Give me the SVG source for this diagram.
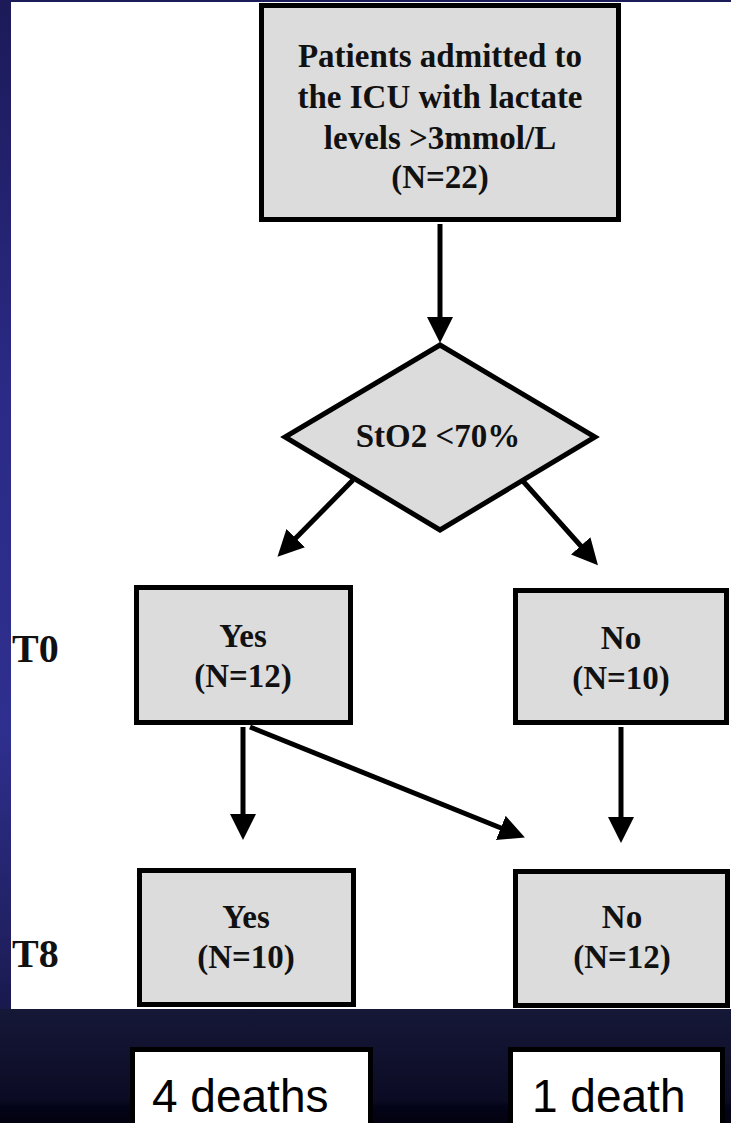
<svg xmlns="http://www.w3.org/2000/svg" width="731" height="1123" viewBox="0 0 731 1123">
  <defs>
    <linearGradient id="sideBand" x1="0" y1="0" x2="0" y2="1">
      <stop offset="0" stop-color="#1c1a58"/>
      <stop offset="0.35" stop-color="#2b2a86"/>
      <stop offset="0.65" stop-color="#2f2f8f"/>
      <stop offset="0.85" stop-color="#1f1f5e"/>
      <stop offset="1" stop-color="#0c0c2a"/>
    </linearGradient>
    <linearGradient id="footBand" x1="0" y1="0" x2="0" y2="1">
      <stop offset="0" stop-color="#161838"/>
      <stop offset="0.8" stop-color="#0b0b24"/>
      <stop offset="0.85" stop-color="#04041a"/>
      <stop offset="1" stop-color="#02020f"/>
    </linearGradient>
    <marker id="head" viewBox="0 0 26 26" markerUnits="userSpaceOnUse" markerWidth="26" markerHeight="26" refX="11" refY="13" orient="auto">
      <path d="M0,0 L26,13 L0,26 Z" fill="#000"/>
    </marker>
    <style>
      .box { fill: #dcdcdc; stroke: #000; stroke-width: 5; }
      .tag { fill: #fff; stroke: #000; stroke-width: 5; }
      .lbl { font-family: "Liberation Serif", "Times New Roman", serif; font-weight: bold; font-size: 33px; fill: #111; text-anchor: middle; }
      .time { font-family: "Liberation Serif", "Times New Roman", serif; font-weight: bold; font-size: 40px; fill: #111; }
      .death { font-family: "Liberation Sans", Arial, sans-serif; font-size: 46px; fill: #000; }
      .edge { stroke: #000; stroke-width: 5; fill: none; marker-end: url(#head); }
    </style>
  </defs>

  <!-- page background -->
  <rect x="0" y="0" width="731" height="1123" fill="#1c1c5a"/>
  <rect x="0" y="0" width="12" height="1123" fill="url(#sideBand)"/>
  <rect x="0" y="1009" width="731" height="114" fill="url(#footBand)"/>
  <rect x="11" y="2" width="720" height="1007" fill="#fff"/>

  <!-- time-point labels -->
  <g id="label-t0"><text class="time" x="12" y="662">T0</text></g>
  <g id="label-t8"><text class="time" x="12" y="967">T8</text></g>

  <!-- connectors -->
  <g id="connectors">
    <line class="edge" x1="440" y1="224" x2="440" y2="328"/>
    <line class="edge" x1="353" y1="480" x2="288" y2="546"/>
    <line class="edge" x1="522" y1="480" x2="588" y2="554"/>
    <line class="edge" x1="243" y1="727" x2="243" y2="825"/>
    <line class="edge" x1="250" y1="727" x2="511" y2="832"/>
    <line class="edge" x1="621" y1="727" x2="621" y2="828"/>
  </g>

  <!-- nodes -->
  <g id="node-admitted">
    <rect class="box" x="261.5" y="5.5" width="357" height="214"/>
    <text class="lbl" x="440" y="67">Patients admitted to</text>
    <text class="lbl" x="440" y="108">the ICU with lactate</text>
    <text class="lbl" x="440" y="149">levels &gt;3mmol/L</text>
    <text class="lbl" x="440" y="188">(N=22)</text>
  </g>

  <g id="node-sto2">
    <polygon class="box" points="440,345 595,437 440,530 285,437"/>
    <text class="lbl" x="438" y="447">StO2 &lt;70%</text>
  </g>

  <g id="node-t0-yes">
    <rect class="box" x="136.5" y="587.5" width="214" height="135"/>
    <text class="lbl" x="243" y="647">Yes</text>
    <text class="lbl" x="243" y="687">(N=12)</text>
  </g>

  <g id="node-t0-no">
    <rect class="box" x="515.5" y="590.5" width="211" height="132"/>
    <text class="lbl" x="621" y="649">No</text>
    <text class="lbl" x="621" y="689">(N=10)</text>
  </g>

  <g id="node-t8-yes">
    <rect class="box" x="139.5" y="870.5" width="214" height="134"/>
    <text class="lbl" x="246" y="928">Yes</text>
    <text class="lbl" x="246" y="968">(N=10)</text>
  </g>

  <g id="node-t8-no">
    <rect class="box" x="515.5" y="871.5" width="212" height="134"/>
    <text class="lbl" x="622" y="928">No</text>
    <text class="lbl" x="622" y="968">(N=12)</text>
  </g>

  <!-- outcome tags -->
  <g id="tag-yes-deaths">
    <rect class="tag" x="132.5" y="1049.5" width="238" height="90"/>
    <text class="death" x="152" y="1112">4 deaths</text>
  </g>
  <g id="tag-no-deaths">
    <rect class="tag" x="510.5" y="1049.5" width="212" height="90"/>
    <text class="death" x="532" y="1112">1 death</text>
  </g>
</svg>
